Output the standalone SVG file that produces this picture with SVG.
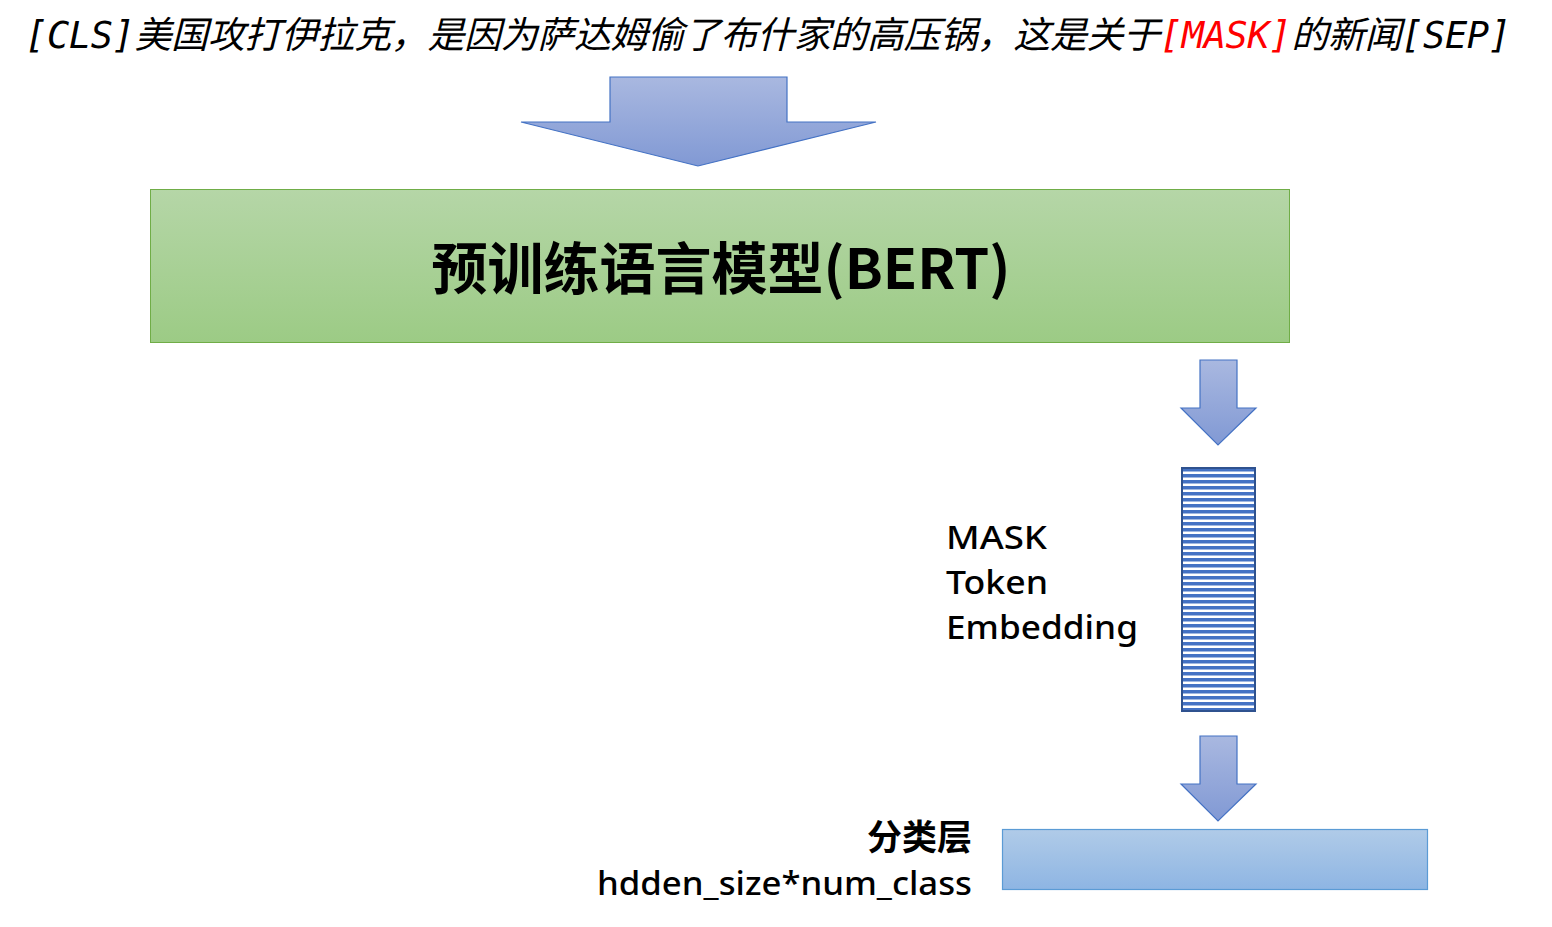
<svg xmlns="http://www.w3.org/2000/svg" width="1552" height="927" viewBox="0 0 1552 927">
<style>
.top{font-family:"DejaVu Sans Mono","Noto Sans CJK SC",monospace;font-style:italic;font-size:37px;fill:#000}
.lbl{font-family:"Noto Sans","Noto Sans CJK SC",sans-serif;font-size:33px;font-weight:500;fill:#000}
.cjk{font-family:"Noto Sans CJK SC",sans-serif;font-size:35px;font-weight:bold;fill:#000}
.arrow{fill:url(#gArrow);stroke:#4472c4;stroke-width:1.2}
</style>
<defs>
<linearGradient id="gArrow" x1="0" y1="0" x2="0" y2="1"><stop offset="0" stop-color="#a9b8e0"/><stop offset="1" stop-color="#8199d4"/></linearGradient>
<linearGradient id="gGreen" x1="0" y1="0" x2="0" y2="1"><stop offset="0" stop-color="#b5d6a7"/><stop offset="1" stop-color="#9ccb85"/></linearGradient>
<linearGradient id="gBlue" x1="0" y1="0" x2="0" y2="1"><stop offset="0" stop-color="#b0cbe8"/><stop offset="1" stop-color="#8eb5e3"/></linearGradient>
<pattern id="stripes" x="0" y="468" width="10" height="6" patternUnits="userSpaceOnUse"><rect width="10" height="6" fill="#fff"/><rect width="10" height="3.5" fill="#4472c4"/></pattern>
</defs>
<text class="top" x="25" y="48" textLength="1486" lengthAdjust="spacing">[CLS]美国攻打伊拉克，是因为萨达姆偷了布什家的高压锅，这是关于<tspan fill="#ff0000">[MASK]</tspan>的新闻[SEP]</text>
<g id="connectors">
<path class="arrow" d="M610,77 H787 V122 H876 L698,166 L521,122 H610 Z"/>
<path class="arrow" d="M1200,360 H1237 V408 H1256 L1218,445 L1181,408 H1200 Z"/>
<path class="arrow" d="M1200,736 H1237 V784 H1256 L1218,821 L1181,784 H1200 Z"/>
</g>
<g id="bert">
<rect x="150.5" y="189.5" width="1139" height="153" fill="url(#gGreen)" stroke="#70ad47" stroke-width="1"/>
<text x="721" y="289" text-anchor="middle" font-family="'Noto Sans CJK SC','Noto Sans',sans-serif" font-weight="bold" font-size="56" fill="#000">预训练语言模型(BERT)</text>
</g>
<g id="mask-embedding">
<rect x="1182" y="468" width="73" height="243" fill="url(#stripes)" stroke="#2f528f" stroke-width="2"/>
<text class="lbl" x="946" y="549" textLength="101" lengthAdjust="spacingAndGlyphs">MASK</text>
<text class="lbl" x="946" y="594" textLength="102" lengthAdjust="spacingAndGlyphs">Token</text>
<text class="lbl" x="946" y="639" textLength="192" lengthAdjust="spacingAndGlyphs">Embedding</text>
</g>
<g id="classifier">
<rect x="1002.5" y="829.5" width="425" height="60" fill="url(#gBlue)" stroke="#5b9bd5" stroke-width="1.2"/>
<text class="cjk" x="972" y="850" text-anchor="end">分类层</text>
<text class="lbl" x="972" y="895" text-anchor="end" textLength="375" lengthAdjust="spacingAndGlyphs">hdden_size*num_class</text>
</g>
</svg>
